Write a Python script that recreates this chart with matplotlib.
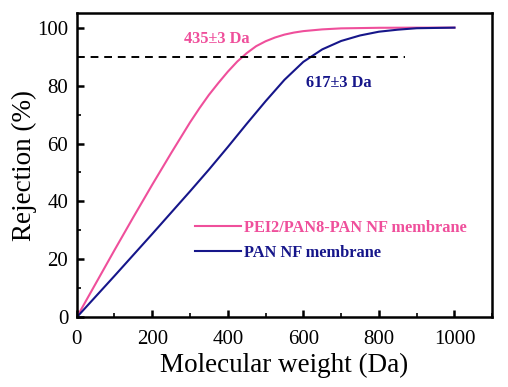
import numpy as np
import matplotlib.pyplot as plt
from matplotlib.ticker import MultipleLocator

# Rejection curves (Da, %)
mw_pei = [0, 50, 100, 150, 200, 250, 300, 325, 350, 375, 400, 425, 450, 475, 500,
          525, 550, 575, 600, 650, 700, 800, 900, 1000]
rej_pei = [0, 11.6, 23.2, 34.6, 45.8, 56.7, 67.3, 72.2, 76.8, 80.9, 84.8, 88.3, 91.2, 93.6, 95.3,
           96.6, 97.6, 98.3, 98.8, 99.4, 99.75, 99.95, 100, 100]

mw_pan = [0, 100, 200, 300, 350, 400, 450, 500, 550, 600, 650, 700, 750, 800, 850, 900, 1000]
rej_pan = [0, 14.3, 28.8, 43.5, 51.0, 58.8, 66.8, 74.6, 82.0, 88.2, 92.5, 95.4, 97.3, 98.6, 99.3, 99.8, 100]

cutoff_level = 90
cutoff_end = 870
labels = ["PEI2/PAN8-PAN NF membrane", "PAN NF membrane"]
colors = ["#ef4f9b", "#16168a"]

plt.rcParams['font.family'] = ['Liberation Serif', 'DejaVu Serif']

fig = plt.figure(figsize=(5.08, 3.87), dpi=100)
ax = fig.add_axes([0.151, 0.180, 0.818, 0.786])

ax.plot(mw_pei, rej_pei, color=colors[0], lw=1.5, label=labels[0])
ax.plot(mw_pan, rej_pan, color=colors[1], lw=1.5, label=labels[1])
ax.plot([0, cutoff_end], [cutoff_level, cutoff_level], color='black', lw=1.4, ls=(0, (4, 3)))

ax.text(372, 96.2, "435±3 Da", color=colors[0], fontsize=11.8, fontweight='bold',
        ha='center', va='center')
ax.text(693, 80.8, "617±3 Da", color=colors[1], fontsize=11.8, fontweight='bold',
        ha='center', va='center')

ax.set_xlim(0, 1100)
ax.set_ylim(0, 105)
ax.xaxis.set_major_locator(MultipleLocator(200))
ax.xaxis.set_minor_locator(MultipleLocator(100))
ax.yaxis.set_major_locator(MultipleLocator(20))
ax.yaxis.set_minor_locator(MultipleLocator(10))
ax.tick_params(which='major', direction='in', length=5, width=1.8, labelsize=15)
ax.tick_params(axis='x', which='major', pad=9)
ax.tick_params(axis='y', which='major', pad=6)
ax.tick_params(which='minor', direction='in', length=3, width=1.2)
for s in ax.spines.values():
    s.set_linewidth(1.8)

ax.set_xlabel("Molecular weight (Da)", fontsize=19.5, labelpad=3)
ax.set_ylabel("Rejection (%)", fontsize=19.5, labelpad=0)

leg = ax.legend(loc='center left', bbox_to_anchor=(0.285, 0.253), frameon=False,
                prop={'weight': 'bold', 'size': 11.8}, handlelength=2.8,
                handletextpad=0.2, labelspacing=0.55, borderpad=0, borderaxespad=0)
for txt, c in zip(leg.get_texts(), colors):
    txt.set_color(c)

fig.savefig("out.png", dpi=100)
